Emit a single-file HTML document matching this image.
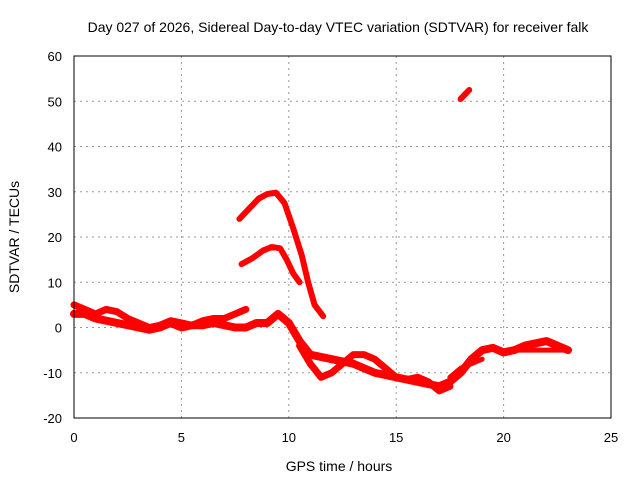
<!DOCTYPE html>
<html><head><meta charset="utf-8"><style>
body{margin:0;background:#fff}
svg{display:block;font-family:"Liberation Sans",sans-serif}
</style></head><body>
<svg id="chart" width="640" height="480">
<rect width="640" height="480" fill="#fff"/>
<text x="338" y="32" font-size="14" text-anchor="middle">Day 027 of 2026, Sidereal Day-to-day VTEC variation (SDTVAR) for receiver falk</text>
<text x="339" y="471" font-size="14" text-anchor="middle">GPS time / hours</text>
<text transform="translate(19,237) rotate(-90)" font-size="14" text-anchor="middle">SDTVAR / TECUs</text>
<g id="grid"></g><g id="ticks"></g><g id="series"></g>
<rect x="74" y="56" width="537" height="362" fill="none" stroke="#000" stroke-width="1"/>
</svg>
<script>
const xTicks=[0,5,10,15,20,25];
const yTicks=[-20,-10,0,10,20,30,40,50,60];
const seriesTopArc=[[7.7,24],[8.2,26.5],[8.6,28.5],[9,29.5],[9.4,29.8],[9.8,27.5],[10.2,22],[10.6,16],[10.9,10],[11.2,5],[11.6,2.5]];
const seriesMidArc=[[7.8,14],[8.3,15.3],[8.8,17],[9.2,17.8],[9.6,17.5],[9.9,15],[10.2,12],[10.5,10]];
const seriesHigh=[[18,50.5],[18.4,52.5]];
const seriesBand1=[[0,3],[0.5,3],[1,2],[1.5,1.5],[2,1],[2.5,0.5],[3,0],[3.5,-0.5],[4,0],[4.5,1],[5,0],[5.5,0.5],[6,0.5],[6.5,1],[7,0.5],[7.5,0],[8,0],[8.5,1],[9,1],[9.5,3],[10,1],[10.5,-3],[11,-6],[11.5,-6.5],[12,-7],[13,-8],[14,-10],[15,-11],[16,-12],[17,-13],[17.5,-12],[18,-10],[18.5,-7],[19,-5],[19.5,-4.5],[20,-5.5],[20.5,-5],[21,-4],[21.5,-3.5],[22,-3],[22.5,-4],[23,-5]];
const seriesBand2=[[0,5],[0.5,4],[1,3],[1.5,4],[2,3.5],[2.5,2],[3,1],[3.5,0],[4,0.5],[4.5,1.5],[5,1],[5.5,0.5],[6,1.5],[6.5,2],[7,2],[7.5,3],[8,4]];
const seriesBand3=[[10.5,-4],[11,-8],[11.5,-11],[12,-10],[12.5,-8],[13,-6],[13.5,-6],[14,-7],[14.5,-9],[15,-11],[15.5,-11.5],[16,-11],[16.5,-12],[17,-14],[17.5,-13]];
const seriesBand4=[[20.5,-5],[21,-5],[21.5,-5],[22,-5],[22.5,-5],[23,-5]];
const seriesBand5=[[17.5,-11],[18,-9],[18.5,-8],[19,-7]];
const sx=v=>74+v*(537/25);
const sy=v=>418-(v+20)*(362/80);
const NS='http://www.w3.org/2000/svg';
const grid=document.getElementById('grid'),ticks=document.getElementById('ticks'),ser=document.getElementById('series');
function mk(t,a,p){const e=document.createElementNS(NS,t);for(const k in a)e.setAttribute(k,a[k]);p.appendChild(e);return e;}
xTicks.forEach(t=>{
 if(t>0&&t<25){const g=mk('line',{x1:sx(t),x2:sx(t),y1:56,y2:418,stroke:'#999','stroke-dasharray':'2,4'},grid);
 
 }
 const l=mk('text',{x:sx(t),y:442,'font-size':13,'text-anchor':'middle'},ticks);l.textContent=t;
 
 
});
yTicks.forEach(t=>{
 if(t>-20&&t<60){const g=mk('line',{x1:74,x2:611,y1:sy(t),y2:sy(t),stroke:'#999','stroke-dasharray':'2,4'},grid);
 
 }
 const l=mk('text',{x:62,y:sy(t)+5,'font-size':13,'text-anchor':'end'},ticks);l.textContent=t;
 
 
});
const all=[[seriesTopArc,6,'top-arc'],[seriesMidArc,6,'mid-arc'],[seriesHigh,6,'high-segment'],[seriesBand1,8,'main-band'],[seriesBand2,7,'upper-band'],[seriesBand3,7,'dip-band'],[seriesBand4,5,'late-band'],[seriesBand5,5,'recovery-band']];
all.forEach(([d,w,n])=>{
 const p=mk('polyline',{points:d.map(q=>sx(q[0])+','+sy(q[1])).join(' '),fill:'none',stroke:'#f00','stroke-width':w,'stroke-linejoin':'round','stroke-linecap':'round'},ser);
 
 
});
</script>
</body></html>
